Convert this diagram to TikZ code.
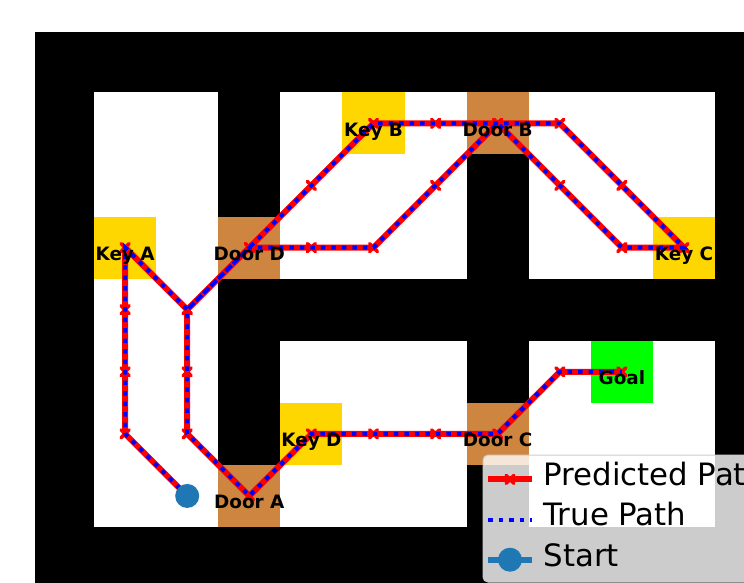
\documentclass[tikz,border=0pt]{standalone}
\usepackage{fontspec}
\setmainfont{DejaVu Sans}
\usepackage{tikz}
\usetikzlibrary{positioning,calc}
\definecolor{keycol}{HTML}{FFD700}
\definecolor{doorcol}{HTML}{CD853F}
\definecolor{goalcol}{HTML}{00FF00}
\definecolor{startcol}{HTML}{1F77B4}

\begin{document}
\begin{tikzpicture}[x=1pt,y=-1pt,
  every node/.style={inner sep=0pt,outer sep=0pt},
  tile/.style={rectangle,minimum width=62.1pt,minimum height=62.1pt},
  keytile/.style={tile,fill=keycol},
  doortile/.style={tile,fill=doorcol},
  goaltile/.style={tile,fill=goalcol},
  lbl/.style={anchor=base,font=\fontsize{18.4}{20}\selectfont\bfseries},
  legtext/.style={anchor=base west,font=\fontsize{30.8}{33}\selectfont},
  pred/.style={red,line width=6pt,line join=round},
  truepath/.style={blue,line width=4pt,dash pattern=on 4.5pt off 6pt},
  xmark/.style={red,line width=3.5pt,line cap=round},
  startdot/.style={circle,fill=startcol,minimum size=24pt},
  legbox/.style={rectangle,rounded corners=5pt,fill=white,fill opacity=0.8,
               draw=black!20,line width=1pt},
]
\clip (0,0) rectangle (744,583);
\useasboundingbox (0,0) rectangle (744,583);

\fill[black] (35,32) rectangle (780,600);
\fill[white] (94.1,92.3) rectangle (218.3,527);
\fill[white] (280.4,92.3) rectangle (466.7,278.6);
\fill[white] (528.8,92.3) rectangle (715,278.6);
\fill[white] (280.4,340.7) rectangle (466.7,527);
\fill[white] (528.8,340.7) rectangle (715,527);

\foreach \c in {1,...,10}{
  \foreach \r in {1,...,7}{
    \coordinate (p\c-\r) at ({63+62.1*\c},{61.25+62.1*\r});
  }
}

\node[keytile]  (keya)  at (p1-3)  {};
\node[keytile]  (keyb)  at (p5-1)  {};
\node[keytile]  (keyc)  at (p10-3) {};
\node[keytile]  (keyd)  at (p4-6)  {};
\node[doortile] (doora) at (p3-7)  {};
\node[doortile] (doorb) at (p7-1)  {};
\node[doortile] (doorc) at (p7-6)  {};
\node[doortile] (doord) at (p3-3)  {};
\node[goaltile] (goal)  at (p9-5)  {};

\def\route{p2-7,p1-6,p1-5,p1-4,p1-3,p2-4,p3-3,p4-2,p5-1,p6-1,p7-1,p8-1,p9-2,p10-3,
  p9-3,p8-2,p7-1,p6-2,p5-3,p4-3,p3-3,p2-4,p2-5,p2-6,p3-7,p4-6,p5-6,p6-6,p7-6,
  p8-5,p9-5}

\draw[pred] (p2-7) \foreach \p in \route {-- (\p)};
\foreach \p in \route {
  \draw[xmark] ([shift={(-4,-4)}]\p) -- ([shift={(4,4)}]\p);
  \draw[xmark] ([shift={(-4,4)}]\p) -- ([shift={(4,-4)}]\p);
}
\draw[truepath] (p2-7) \foreach \p in \route {-- (\p)};

\node[startdot] (start) at (p2-7) {};

\node[lbl] (keyatxt)  at ([yshift=-12.7pt]keya.center)  {Key A};
\node[lbl] (keybtxt)  at ([yshift=-12.7pt]keyb.center)  {Key B};
\node[lbl] (keyctxt)  at ([yshift=-12.7pt]keyc.center)  {Key C};
\node[lbl] (keydtxt)  at ([yshift=-12.7pt]keyd.center)  {Key D};
\node[lbl] (dooratxt) at ([yshift=-12.7pt]doora.center) {Door A};
\node[lbl] (doorbtxt) at ([yshift=-12.7pt]doorb.center) {Door B};
\node[lbl] (doorctxt) at ([yshift=-12.7pt]doorc.center) {Door C};
\node[lbl] (doordtxt) at ([yshift=-12.7pt]doord.center) {Door D};
\node[lbl] (goaltxt)  at ([yshift=-12.7pt]goal.center)  {Goal};

\node[legbox,minimum width=300pt,minimum height=127pt,anchor=north west] (legend) at (483,455) {};
\coordinate (lg1a) at (488,479.3);
\coordinate (lg1b) at (532,479.3);
\coordinate (lg1m) at (510,479.3);
\coordinate (lg2a) at (488,519.7);
\coordinate (lg2b) at (532,519.7);
\coordinate (lg3a) at (488,559.7);
\coordinate (lg3b) at (532,559.7);
\draw[pred] (lg1a) -- (lg1b);
\draw[xmark] ([shift={(-4,-4)}]lg1m) -- ([shift={(4,4)}]lg1m);
\draw[xmark] ([shift={(-4,4)}]lg1m) -- ([shift={(4,-4)}]lg1m);
\draw[truepath] (lg2a) -- (lg2b);
\draw[startcol,line width=6pt] (lg3a) -- (lg3b);
\node[startdot] (legstart) at ($(lg3a)!0.5!(lg3b)$) {};
\node[legtext] (lgt1) at (543.5,485.3) {Predicted Path};
\node[legtext] (lgt2) at (543.5,525.5) {True Path};
\node[legtext] (lgt3) at (543.5,566.3) {Start};
\end{tikzpicture}
\end{document}
